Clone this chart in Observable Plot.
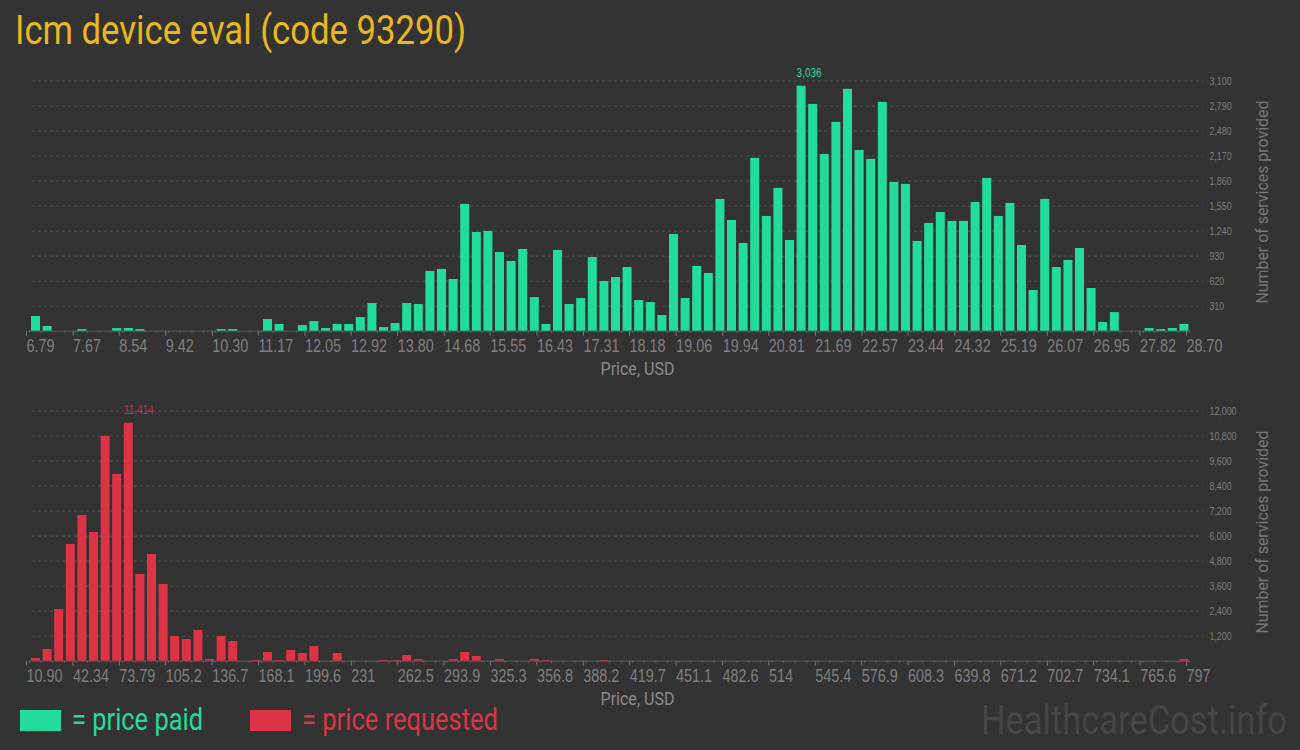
<!DOCTYPE html>
<html><head><meta charset="utf-8">
<script src="https://cdn.jsdelivr.net/npm/d3@7"></script>
<script src="https://cdn.jsdelivr.net/npm/@observablehq/plot@0.6"></script>
<style>
html,body{margin:0;padding:0;background:#333;}
#root{position:relative;width:1300px;height:750px;background:#333;overflow:hidden;font-family:Roboto,sans-serif;}
.abs{position:absolute;white-space:nowrap;transform-origin:0 0;display:inline-block;}
.chart{position:absolute;left:0;}
</style></head><body><div id="root"></div>
<script>
// ---------- data ----------
const title = "Icm device eval (code 93290)";
const paidTickLabels = ["6.79","7.67","8.54","9.42","10.30","11.17","12.05","12.92","13.80","14.68","15.55","16.43","17.31","18.18","19.06","19.94","20.81","21.69","22.57","23.44","24.32","25.19","26.07","26.95","27.82","28.70"];
const paidCounts = [
  182,58,0,0,20,0,0,33,33,20,
  0,0,0,0,0,0,20,20,0,0,
  145,83,0,70,120,33,83,83,169,343,
  45,95,343,331,740,765,641,1571,1223,1236,
  975,864,1013,417,83,1000,331,405,913,616,
  665,789,380,355,194,1199,405,802,715,1633,
  1372,1087,2141,1422,1769,1124,3036,2810,2190,2587,
  2997,2240,2129,2835,1843,1819,1112,1335,1471,1360,
  1360,1595,1893,1422,1583,1062,504,1633,789,876,
  1025,529,107,231,0,0,33,20,33,83];
const paidYTicks = [310,620,930,1240,1550,1860,2170,2480,2790,3100];

const requestedTickLabels = ["10.90","42.34","73.79","105.2","136.7","168.1","199.6","231","262.5","293.9","325.3","356.8","388.2","419.7","451.1","482.6","514","545.4","576.9","608.3","639.8","671.2","702.7","734.1","765.6","797"];
const requestedCounts = [
  128,560,2480,5600,6992,6176,10784,8960,11414,4160,
  5120,3680,1184,1040,1472,80,1184,944,0,32,
  416,32,512,368,704,0,368,0,0,0,
  32,32,272,80,0,0,80,416,224,0,
  80,0,0,80,32,0,0,0,0,32,
  0,0,0,0,0,0,0,0,0,0,
  0,0,0,0,0,0,0,0,0,0,
  0,0,0,0,0,0,0,0,0,0,
  0,0,0,0,0,0,0,0,0,0,
  0,0,0,0,0,0,0,0,0,80];
const requestedYTicks = [1200,2400,3600,4800,6000,7200,8400,9600,10800,12000];

const xLabel = "Price, USD";
const yLabel = "Number of services provided";
const legendPaid = "= price paid";
const legendRequested = "= price requested";
const watermark = "HealthcareCost.info";

const GREEN = "#21dc9b";
const RED = "#dc3444";

// ---------- build ----------
const root = document.getElementById("root");

function addText(txt, {left, top, size, color, width}) {
  const el = document.createElement("div");
  el.className = "abs";
  el.textContent = txt;
  Object.assign(el.style, {left: left + "px", top: top + "px", fontSize: size + "px", lineHeight: size + "px", color});
  root.appendChild(el);
  if (width) {
    const w = el.getBoundingClientRect().width;
    el.style.transform = `scaleX(${width / w})`;
  }
  return el;
}
function addBox(left, top, w, h, color) {
  const el = document.createElement("div");
  Object.assign(el.style, {position: "absolute", left: left + "px", top: top + "px", width: w + "px", height: h + "px", background: color});
  root.appendChild(el);
}

function makeChart({labels, counts, yTicks, color, peakColor, top}) {
  const ticks = labels.map(Number);
  const lo = ticks[0], hi = ticks[ticks.length - 1];
  const bw = (hi - lo) / counts.length;
  const bins = counts.map((c, i) => ({x0: lo + i * bw, x1: lo + (i + 1) * bw, count: c}));
  const edges = d3.range(counts.length + 1).map(i => lo + i * bw);
  const labelOf = new Map(ticks.map((t, i) => [t, labels[i]]));
  const peak = bins.reduce((a, b) => (b.count > a.count ? b : a));
  const fmt = d3.format(",");

  const svg = Plot.plot({
    width: 1300, height: 320,
    marginLeft: 29, marginRight: 111, marginTop: 20.5, marginBottom: 49.3,
    x: {domain: [lo, hi]},
    y: {domain: [0, yTicks[yTicks.length - 1]]},
    style: {background: "transparent", color: "#7e7e7e", fontFamily: "'Liberation Sans Narrow', 'Arial Narrow', sans-serif", fontSize: "11px", overflow: "visible"},
    marks: [
      Plot.gridY({ticks: yTicks, stroke: "#525252", strokeOpacity: 1, strokeDasharray: "3,3", insetLeft: 3, insetRight: -14}),
      Plot.ruleY([0], {stroke: "#5a5a5a"}),
      Plot.rectY(bins.filter(d => d.count > 0), {x1: "x0", x2: "x1", y: "count", fill: color, insetLeft: 2, insetRight: 0.6}),
      Plot.axisX({ticks: edges, tickSize: 2, tickFormat: () => "", stroke: "#666", label: null}),
      Plot.axisX({ticks, tickSize: 5, tickPadding: 3, tickFormat: d => labelOf.get(d), textAnchor: "start", dx: -3, fontSize: 18, stroke: "#777", label: null}),
      Plot.axisY({anchor: "right", ticks: yTicks, tickSize: 0, tickPadding: 20, tickFormat: fmt, fontSize: 11, label: null}),
      Plot.text([peak], {x: "x0", y: "count", text: d => fmt(d.count), textAnchor: "start", dx: 1.5, dy: -13, fill: peakColor, fontSize: 12.5}),
      Plot.text([yLabel], {frameAnchor: "right", textAnchor: "middle", dx: 73, dy: -4, rotate: -90, fontSize: 17, fontFamily: "Roboto", fill: "#767676"}),
      Plot.text([xLabel], {frameAnchor: "bottom", dx: 28, dy: 31, lineAnchor: "top", fontSize: 18, fontFamily: "Roboto", fill: "#8a8a8a"})
    ]
  });
  svg.classList.add("chart");
  svg.style.top = top + "px";
  root.appendChild(svg);

  // condense narrow labels to match the reference's condensed face
  svg.querySelectorAll("text").forEach(t => {
    const s = t.textContent;
    if (!s) return;
    const len = t.getComputedTextLength();
    let target;
    if (s === yLabel) target = 203;
    else if (s === xLabel) target = 74;
    else target = len * 0.8;
    t.setAttribute("textLength", target);
    t.setAttribute("lengthAdjust", "spacingAndGlyphs");
  });
}

addText(title, {left: 15, top: 10, size: 41, color: "#e8b81c", width: 451});
makeChart({labels: paidTickLabels, counts: paidCounts, yTicks: paidYTicks, color: GREEN, peakColor: GREEN, top: 60});
makeChart({labels: requestedTickLabels, counts: requestedCounts, yTicks: requestedYTicks, color: RED, peakColor: "#c8303e", top: 390});

addBox(20, 710, 41, 21, GREEN);
addText(legendPaid, {left: 72, top: 704, size: 31, color: GREEN, width: 131});
addBox(250, 710, 41, 21, RED);
addText(legendRequested, {left: 302, top: 704, size: 31, color: RED, width: 196});
addText(watermark, {left: 981, top: 699.5, size: 41, color: "#464646", width: 306});
</script>
</body></html>
